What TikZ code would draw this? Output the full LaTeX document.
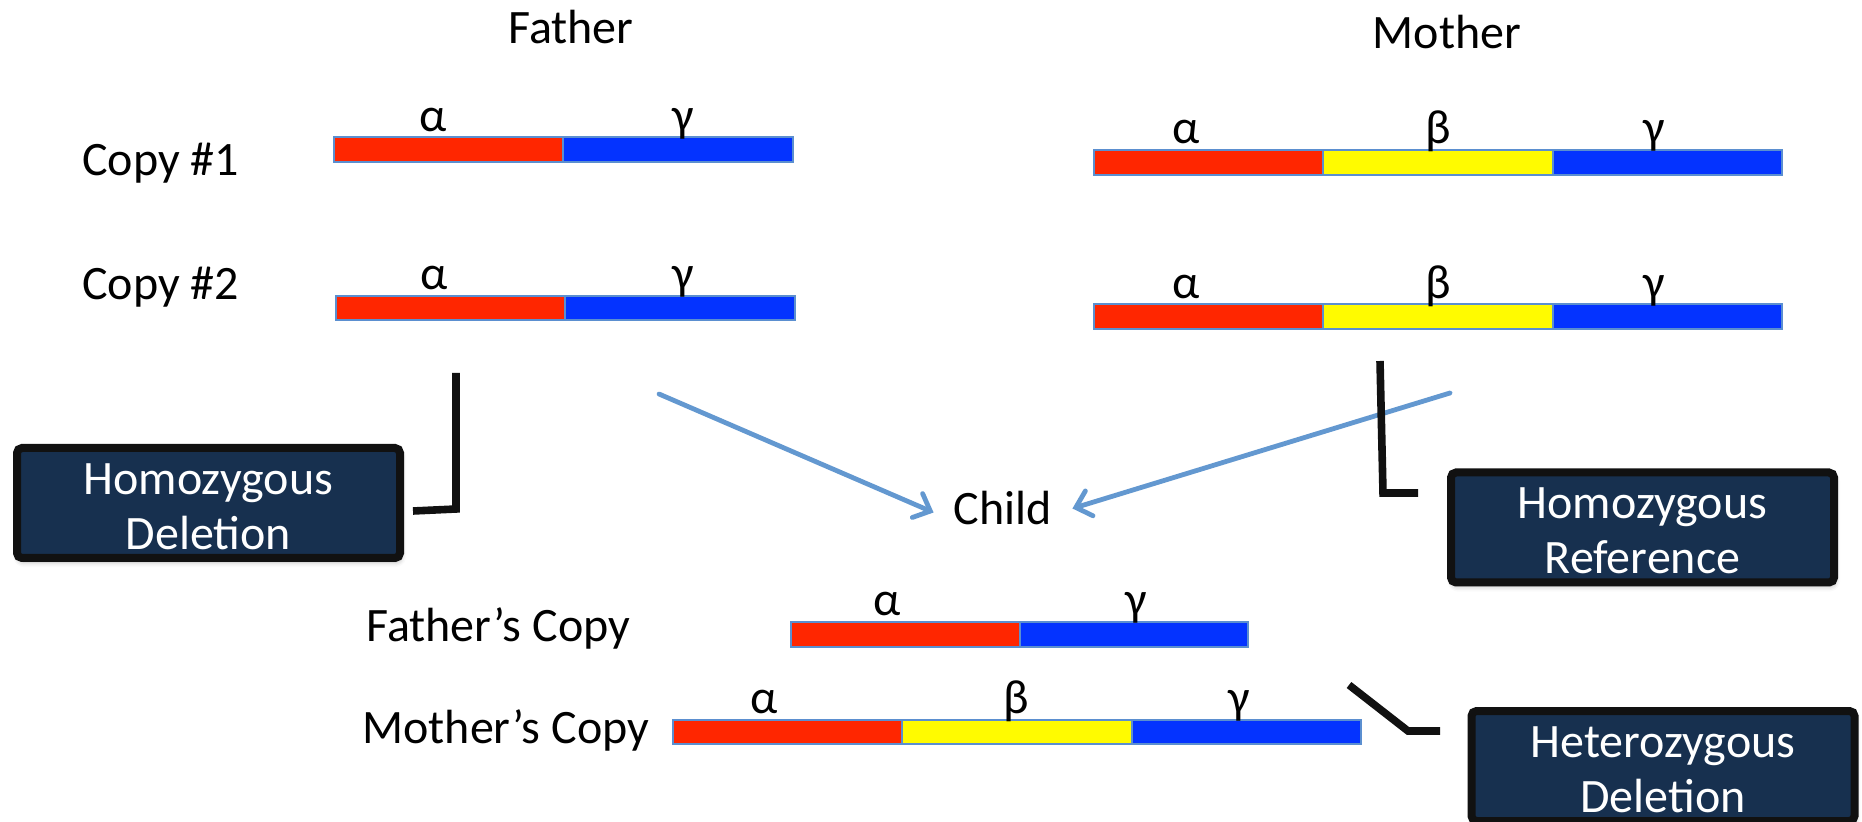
\documentclass[tikz,border=0pt]{standalone}
\usepackage{fontspec}
\setmainfont{Carlito}
\usetikzlibrary{arrows.meta,shadows.blur}

\definecolor{segred}{HTML}{FF2600}
\definecolor{segblue}{HTML}{0433FF}
\definecolor{segyellow}{HTML}{FFFB00}
\definecolor{segedge}{HTML}{5B8FD0}
\definecolor{arrowblue}{HTML}{6398D0}
\definecolor{tagfill}{HTML}{17304F}
\definecolor{callout}{HTML}{111111}

% strut that lowers the two-line text inside the call-out boxes a little
\newcommand{\tagstrut}{\rule{0pt}{19pt}}

\begin{document}
\begin{tikzpicture}[x=0.5pt,y=-0.5pt,
  txt/.style={inner sep=0pt, font=\fontsize{24}{27.5}\selectfont},
  lbl/.style={txt, anchor=base},
  seg/.style={draw=segedge, line width=1pt},
  tag/.style={draw=callout, line width=4pt, fill=tagfill, rounded corners=2.5pt,
    text=white, align=center, minimum width=191.5pt, minimum height=55pt,
    inner sep=0pt, font=\fontsize{24}{27.5}\selectfont,
    blur shadow={shadow xshift=0.6pt, shadow yshift=-2pt, shadow blur radius=2.5pt, shadow opacity=30}},
  pointer/.style={draw=callout, line width=3.8pt},
  inherit/.style={draw=arrowblue, line width=2.4pt, line cap=round,
    -{Straight Barb[length=7pt,width=13pt,line cap=round]}}
]
\useasboundingbox (0,0) rectangle (1862,822);
\clip (0,0) rectangle (1862,822);

% column headings and row labels
\node[lbl] (father) at (571,44) {Father};
\node[lbl] (mother) at (1447,49) {Mother};
\node[txt, anchor=base west] (copy1) at (82,176) {Copy \#1};
\node[txt, anchor=base west] (copy2) at (82,300) {Copy \#2};

% father, copy 1
\draw[seg, fill=segred]  (334,137) rectangle (563,162);
\draw[seg, fill=segblue] (563,137) rectangle (793,162);
\node[lbl] (f1a) at (433,132) {α};
\node[lbl] (f1g) at (683,132) {γ};

% father, copy 2
\draw[seg, fill=segred]  (336,296) rectangle (565,320);
\draw[seg, fill=segblue] (565,296) rectangle (795,320);
\node[lbl] (f2a) at (434,290) {α};
\node[lbl] (f2g) at (683,290) {γ};

% mother, copy 1
\draw[seg, fill=segred]    (1094,150) rectangle (1323,175);
\draw[seg, fill=segyellow] (1323,150) rectangle (1553,175);
\draw[seg, fill=segblue]   (1553,150) rectangle (1782,175);
\node[lbl] (m1a) at (1186,144) {α};
\node[lbl] (m1b) at (1438,144) {β};
\node[lbl] (m1g) at (1654,144) {γ};

% mother, copy 2
\draw[seg, fill=segred]    (1094,304) rectangle (1323,329);
\draw[seg, fill=segyellow] (1323,304) rectangle (1553,329);
\draw[seg, fill=segblue]   (1553,304) rectangle (1782,329);
\node[lbl] (m2a) at (1186,299) {α};
\node[lbl] (m2b) at (1438,299) {β};
\node[lbl] (m2g) at (1654,299) {γ};

% child
\node[txt, anchor=base, inner xsep=10pt] (child) at (1003,525) {Child};
\coordinate (fsrc) at (659,394);
\coordinate (msrc) at (1450,393);
\draw[inherit] (fsrc) -- ([yshift=-2pt]child.west);
\draw[inherit] (msrc) -- (child.east);

% child, copy from father
\node[txt, anchor=base west] (cfl) at (366,642) {Father’s Copy};
\draw[seg, fill=segred]  (791,622) rectangle (1020,647);
\draw[seg, fill=segblue] (1020,622) rectangle (1248,647);
\node[lbl] (cfa) at (887,616) {α};
\node[lbl] (cfg) at (1136,616) {γ};

% child, copy from mother
\node[txt, anchor=base west] (cml) at (362,743) {Mother’s Copy};
\draw[seg, fill=segred]    (673,720) rectangle (902,744);
\draw[seg, fill=segyellow] (902,720) rectangle (1132,744);
\draw[seg, fill=segblue]   (1132,720) rectangle (1361,744);
\node[lbl] (cma) at (764,713) {α};
\node[lbl] (cmb) at (1016,713) {β};
\node[lbl] (cmg) at (1239,713) {γ};

% call-out boxes
\node[tag] (homdel) at (208.5,503) {\tagstrut Homozygous\\Deletion};
\node[tag] (homref) at (1642.5,527.5) {\tagstrut Homozygous\\Reference};
\node[tag] (hetdel) at (1663,766) {\tagstrut Heterozygous\\Deletion};

% call-out brackets
\coordinate (hd1) at (456,373);
\coordinate (hd2) at (456,509);
\coordinate (hd3) at (413,511);
\draw[pointer] (hd1) -- (hd2) -- (hd3);

\coordinate (hr1) at (1380,361);
\coordinate (hr2) at (1383,493);
\coordinate (hr3) at (1418,493);
\draw[pointer] (hr1) -- (hr2) -- (hr3);

\coordinate (ht1) at (1349,685);
\coordinate (ht2) at (1408,731);
\coordinate (ht3) at (1440,731);
\draw[pointer] (ht1) -- (ht2) -- (ht3);
\end{tikzpicture}
\end{document}
